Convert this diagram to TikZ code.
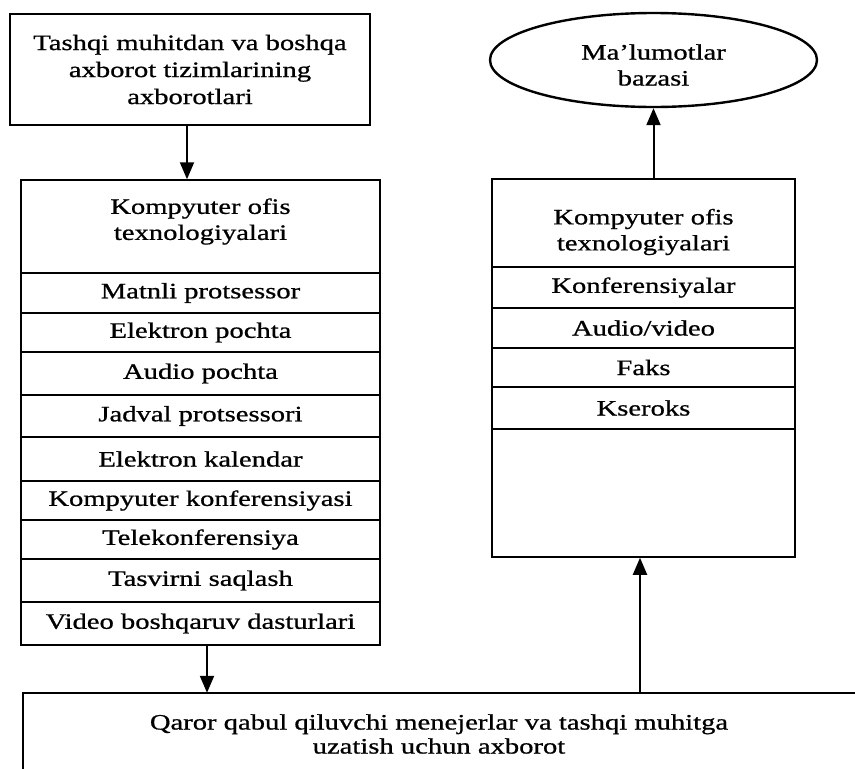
\documentclass[tikz,border=0pt]{standalone}
\usepackage{fontspec}
\setmainfont{Liberation Serif}[FakeStretch=1.3,FakeBold=0.8]
\usetikzlibrary{arrows.meta,shapes.geometric}

\begin{document}
\begin{tikzpicture}[x=1pt,y=-1pt,
  txt/.style={font=\fontsize{22}{26}\selectfont,align=center},
  cell/.style={txt,draw,line width=1.5pt,inner sep=0pt},
  lcell/.style={cell,minimum width=359pt},
  rcell/.style={cell,minimum width=303pt},
  topbox/.style={txt,draw,line width=2.8pt,inner sep=0pt,minimum width=360pt,minimum height=111pt,font=\fontsize{22}{27}\selectfont},
  dbshape/.style={ellipse,draw,line width=2.4pt,inner sep=0pt,minimum width=327pt,minimum height=94pt},
  arr/.style={line width=2pt,-{Triangle[width=14pt,length=17pt]}}
]
\fill[white] (0,0) rectangle (855,769);
\useasboundingbox (0,0) rectangle (855,769);

% top source box
\node[topbox] (src) at (190,69.5) {Tashqi muhitdan va boshqa\\axborot tizimlarining\\axborotlari};

% left column
\node[lcell,minimum height=93pt,label={[txt,yshift=5pt]center:{Kompyuter ofis\\texnologiyalari}}] (lh) at (200.5,226.5) {};
\node[lcell,minimum height=40pt] (l1) at (200.5,293) {Matnli protsessor};
\node[lcell,minimum height=39pt] (l2) at (200.5,332.5) {Elektron pochta};
\node[lcell,minimum height=43pt] (l3) at (200.5,373.5) {Audio pochta};
\node[lcell,minimum height=42pt] (l4) at (200.5,416) {Jadval protsessori};
\node[lcell,minimum height=44pt] (l5) at (200.5,459) {Elektron kalendar};
\node[lcell,minimum height=39pt] (l6) at (200.5,500.5) {Kompyuter konferensiyasi};
\node[lcell,minimum height=39pt] (l7) at (200.5,539.5) {Telekonferensiya};
\node[lcell,minimum height=43pt] (l8) at (200.5,580.5) {Tasvirni saqlash};
\node[lcell,minimum height=43pt] (l9) at (200.5,623.5) {Video boshqaruv dasturlari};

% right column
\node[rcell,minimum height=88pt,label={[txt,yshift=-9pt]center:{Kompyuter ofis\\texnologiyalari}}] (rh) at (643.5,223) {};
\node[rcell,minimum height=41pt] (r1) at (643.5,287.5) {Konferensiyalar};
\node[rcell,minimum height=40pt] (r2) at (643.5,328) {Audio/video};
\node[rcell,minimum height=39pt] (r3) at (643.5,367.5) {Faks};
\node[rcell,minimum height=42pt] (r4) at (643.5,408) {Kseroks};
\node[rcell,minimum height=128pt] (r5) at (643.5,493) {};

% database ellipse
\node[dbshape,label={[txt,yshift=-5pt]center:{Ma’lumotlar\\bazasi}}] (db) at (653.5,60) {};

% bottom destination box (open to the right and bottom)
\node[txt,inner sep=0pt,minimum width=832pt,minimum height=82pt,font=\fontsize{22}{24}\selectfont] (dest) at (439,734)
  {Qaror qabul qiluvchi menejerlar va tashqi muhitga\\uzatish uchun axborot};
\draw[line width=2.6pt] (dest.north east) -- (dest.north west) -- (dest.south west);

% connectors
\draw[arr] ([xshift=-3pt]src.south) -- ([xshift=-3pt]src.south |- lh.north);
\draw[arr] ([xshift=6.5pt]l9.south) -- ([xshift=6.5pt]l9.south |- dest.north);
\draw[arr] ([xshift=-3.5pt]r5.south |- dest.north) -- ([xshift=-3.5pt]r5.south);
\draw[arr] ([xshift=10pt]rh.north) -- ([xshift=10pt]rh.north |- db.south);
\end{tikzpicture}
\end{document}
